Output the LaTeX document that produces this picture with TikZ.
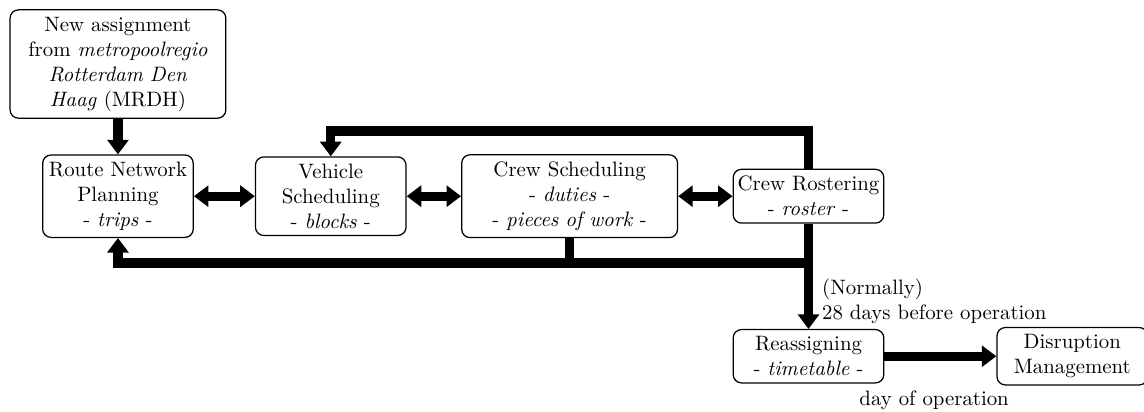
\documentclass[tikz,border=0pt]{standalone}
\usetikzlibrary{arrows.meta,calc}

\begin{document}
\begin{tikzpicture}[->,>={Triangle[length=7pt,width=10pt]},line width=4.5pt,
    main node/.style={rectangle,draw,rounded corners=4pt,line width=0.6pt,
        align=center,text width=2.4cm,inner xsep=2pt},
    wide node/.style={main node,text width=3.5cm},
    note node/.style={align=left,font=\normalsize}]

  \useasboundingbox (-1.99,-3.64) rectangle (17.31,3.31);

  \node[main node] (RNP) {Route Network\\ Planning\\ - \textit{trips} -};
  \node[wide node] (MRDH) [node distance=2.23cm, above of=RNP]
    {New assignment\\ from \textit{metropoolregio}\\ \textit{Rotterdam Den}\\ \textit{Haag} (MRDH)};
  \node[main node] (VS) [node distance=3.59cm, right of=RNP] {Vehicle\\ Scheduling\\ - \textit{blocks} -};
  \node[wide node] (CS) [node distance=4.03cm, right of=VS]
    {Crew Scheduling\\ - \textit{duties} -\\ - \textit{pieces of work} -};
  \node[main node] (CR) [node distance=4.03cm, right of=CS] {Crew Rostering\\ - \textit{roster} -};
  \node[main node] (RA) [node distance=2.70cm, below of=CR] {Reassigning\\ - \textit{timetable} -};
  \node[main node] (DM) [node distance=4.45cm, right of=RA] {Disruption\\ Management};

  % feedback lines
  \coordinate (upper) at ($(CR)+(0,1.10)$);
  \coordinate (lower) at ($(CR)+(0,-1.13)$);

  \draw (MRDH) -- (RNP);
  \path[<->]
  (RNP) edge (VS)
  (VS) edge (CS)
  (CS) edge (CR);

  \draw (CR.north) -- (upper) -| (VS.north);
  \draw (lower) -| (RNP.south);
  \draw[-] (CS.south) -- (CS |- lower);
  \draw (CR.south) -- (RA.north)
    node[note node, at end, above right, xshift=1pt, yshift=-3pt] {(Normally)\\28 days before operation};
  \draw (RA) -- (DM)
    node[midway, below=11pt, xshift=-3pt] {day of operation};
\end{tikzpicture}
\end{document}
